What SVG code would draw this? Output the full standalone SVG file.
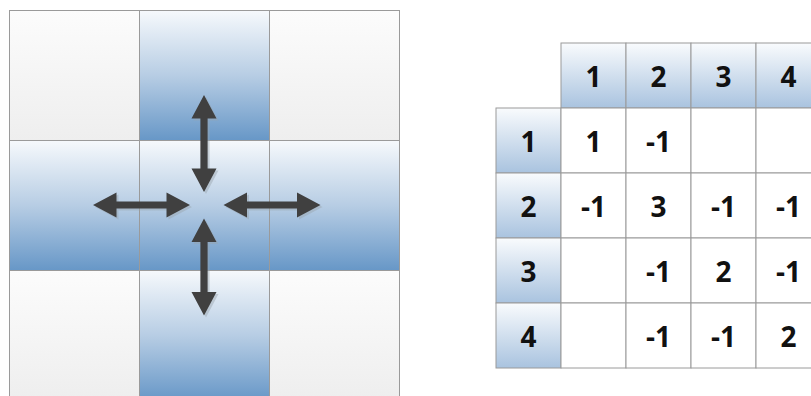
<svg xmlns="http://www.w3.org/2000/svg" xmlns:xlink="http://www.w3.org/1999/xlink" width="811" height="396" viewBox="0 0 811 396">
<defs>
<linearGradient id="gGrey" x1="0" y1="0" x2="0" y2="1">
<stop offset="0" stop-color="#fcfcfc"/>
<stop offset="1" stop-color="#eeeeee"/>
</linearGradient>
<linearGradient id="gBlue" x1="0" y1="0" x2="0" y2="1">
<stop offset="0" stop-color="#f6f9fc"/>
<stop offset="0.5" stop-color="#b7cde4"/>
<stop offset="1" stop-color="#6797c7"/>
</linearGradient>
<linearGradient id="gHead" x1="0" y1="0" x2="0" y2="1">
<stop offset="0" stop-color="#f9fbfd"/>
<stop offset="1" stop-color="#a9c3df"/>
</linearGradient>
<polygon id="dbl" points="0,-48.5 12.5,-25 3.6,-25 3.6,25 12.5,25 0,48.5 -12.5,25 -3.6,25 -3.6,-25 -12.5,-25"/>
</defs>
<style>
.cell{stroke:#9a9a9a;stroke-width:1}
.grey{fill:url(#gGrey)}
.blue{fill:url(#gBlue)}
.hd{fill:url(#gHead);stroke:#9a9a9a;stroke-width:1}
.tc{fill:#ffffff;stroke:#9a9a9a;stroke-width:1}
.t{font-family:"Open Sans","Liberation Sans",sans-serif;font-weight:bold;font-size:28px;fill:#111111;text-anchor:middle;dominant-baseline:central}
.arrow{fill:#404040}
.shadow{fill:#9aa4ae;opacity:0.45}
</style>
<rect width="811" height="396" fill="#ffffff"/>
<g id="grid">
<g id="c00"><rect class="cell grey" x="9.5" y="10.5" width="130" height="130"/></g>
<g id="c01"><rect class="cell blue" x="139.5" y="10.5" width="130" height="130"/></g>
<g id="c02"><rect class="cell grey" x="269.5" y="10.5" width="130" height="130"/></g>
<g id="c10"><rect class="cell blue" x="9.5" y="140.5" width="130" height="130"/></g>
<g id="c11"><rect class="cell blue" x="139.5" y="140.5" width="130" height="130"/></g>
<g id="c12"><rect class="cell blue" x="269.5" y="140.5" width="130" height="130"/></g>
<g id="c20"><rect class="cell grey" x="9.5" y="270.5" width="130" height="130"/></g>
<g id="c21"><rect class="cell blue" x="139.5" y="270.5" width="130" height="130"/></g>
<g id="c22"><rect class="cell grey" x="269.5" y="270.5" width="130" height="130"/></g>
</g>
<g id="connectors">
<use href="#dbl" class="shadow" transform="translate(206,145.5)"/>
<use href="#dbl" class="shadow" transform="translate(206,269)"/>
<use href="#dbl" class="shadow" transform="translate(143.5,207) rotate(90)"/>
<use href="#dbl" class="shadow" transform="translate(274,207) rotate(90)"/>
<use href="#dbl" class="arrow" transform="translate(204,143.5)"/>
<use href="#dbl" class="arrow" transform="translate(204,267)"/>
<use href="#dbl" class="arrow" transform="translate(141.5,205) rotate(90)"/>
<use href="#dbl" class="arrow" transform="translate(272,205) rotate(90)"/>
</g>
<g id="matrix">
<g id="h1"><rect class="hd" x="561" y="43" width="65" height="65"/><text class="t" x="593.5" y="75.5">1</text></g>
<g id="h2"><rect class="hd" x="626" y="43" width="65" height="65"/><text class="t" x="658.5" y="75.5">2</text></g>
<g id="h3"><rect class="hd" x="691" y="43" width="65" height="65"/><text class="t" x="723.5" y="75.5">3</text></g>
<g id="h4"><rect class="hd" x="756" y="43" width="65" height="65"/><text class="t" x="788.5" y="75.5">4</text></g>
<g id="r1"><rect class="hd" x="496" y="108" width="65" height="65"/><text class="t" x="528.5" y="140.5">1</text></g>
<g id="r2"><rect class="hd" x="496" y="173" width="65" height="65"/><text class="t" x="528.5" y="205.5">2</text></g>
<g id="r3"><rect class="hd" x="496" y="238" width="65" height="65"/><text class="t" x="528.5" y="270.5">3</text></g>
<g id="r4"><rect class="hd" x="496" y="303" width="65" height="65"/><text class="t" x="528.5" y="335.5">4</text></g>
<g id="body">
<rect class="tc" x="561" y="108" width="65" height="65"/><rect class="tc" x="626" y="108" width="65" height="65"/><rect class="tc" x="691" y="108" width="65" height="65"/><rect class="tc" x="756" y="108" width="65" height="65"/>
<rect class="tc" x="561" y="173" width="65" height="65"/><rect class="tc" x="626" y="173" width="65" height="65"/><rect class="tc" x="691" y="173" width="65" height="65"/><rect class="tc" x="756" y="173" width="65" height="65"/>
<rect class="tc" x="561" y="238" width="65" height="65"/><rect class="tc" x="626" y="238" width="65" height="65"/><rect class="tc" x="691" y="238" width="65" height="65"/><rect class="tc" x="756" y="238" width="65" height="65"/>
<rect class="tc" x="561" y="303" width="65" height="65"/><rect class="tc" x="626" y="303" width="65" height="65"/><rect class="tc" x="691" y="303" width="65" height="65"/><rect class="tc" x="756" y="303" width="65" height="65"/>
<text class="t" x="593.5" y="140.5">1</text><text class="t" x="658.5" y="140.5">-1</text>
<text class="t" x="593.5" y="205.5">-1</text><text class="t" x="658.5" y="205.5">3</text><text class="t" x="723.5" y="205.5">-1</text><text class="t" x="788.5" y="205.5">-1</text>
<text class="t" x="658.5" y="270.5">-1</text><text class="t" x="723.5" y="270.5">2</text><text class="t" x="788.5" y="270.5">-1</text>
<text class="t" x="658.5" y="335.5">-1</text><text class="t" x="723.5" y="335.5">-1</text><text class="t" x="788.5" y="335.5">2</text>
</g>
</g>
</svg>
